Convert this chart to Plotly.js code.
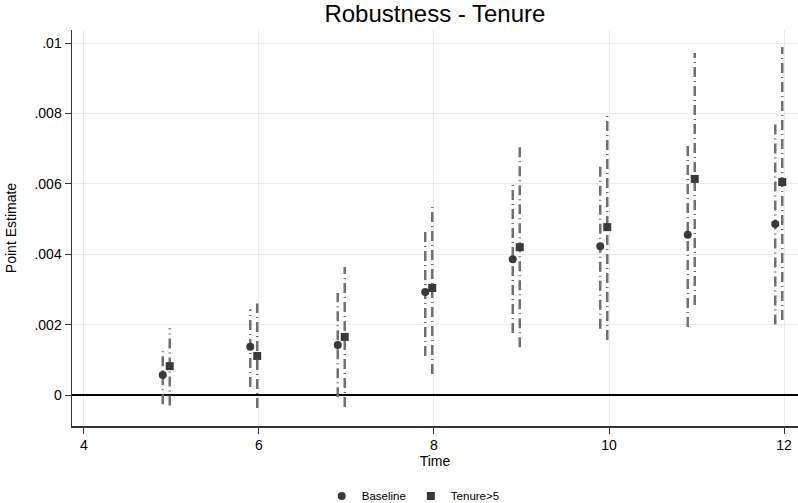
<!DOCTYPE html>
<html><head><meta charset="utf-8">
<script src="https://cdn.plot.ly/plotly-3.0.1.min.js"></script>
<style>body{margin:0;background:#fff}#c{width:798px;height:503px}</style>
</head><body><div id="c"></div>
<script>
const times = [5, 6, 7, 8, 9, 10, 11, 12];
const baseOffset = -0.1, tenOffset = -0.02;
const baseEst = [0.00057, 0.00137, 0.00142, 0.00293, 0.00386, 0.00423, 0.00455, 0.00486];
const baseLo  = [-0.00026, 0.00023, -0.00006, 0.00111, 0.00176, 0.00188, 0.00193, 0.00200];
const baseHi  = [0.00130, 0.00244, 0.00290, 0.00470, 0.00600, 0.00653, 0.00716, 0.00770];
const tenEst  = [0.00082, 0.00111, 0.00165, 0.00304, 0.00420, 0.00477, 0.00614, 0.00605];
const tenLo   = [-0.00030, -0.00037, -0.00034, 0.00060, 0.00136, 0.00156, 0.00256, 0.00213];
const tenHi   = [0.00190, 0.00260, 0.00364, 0.00545, 0.00707, 0.00795, 0.00972, 0.00989];
const yTicks = [0, 0.002, 0.004, 0.006, 0.008, 0.01];
const yTickText = ['0', '.002', '.004', '.006', '.008', '.01'];
const xTicks = [4, 6, 8, 10, 12];

function ciTrace(off, lo, hi) {
  const x = [], y = [];
  times.forEach((t, i) => { x.push(t + off, t + off, null); y.push(lo[i], hi[i], null); });
  return {x, y, mode: 'lines', type: 'scatter', showlegend: false, hoverinfo: 'skip',
          line: {color: '#707070', width: 2.5, dash: '10px,4px,1px,4px'}};
}
const traces = [
  ciTrace(baseOffset, baseLo, baseHi),
  ciTrace(tenOffset, tenLo, tenHi),
  {x: times.map(t => t + baseOffset), y: baseEst, mode: 'markers', type: 'scatter', name: 'Baseline',
   marker: {symbol: 'circle', size: 8, color: '#3a3a3a'}},
  {x: times.map(t => t + tenOffset), y: tenEst, mode: 'markers', type: 'scatter', name: 'Tenure>5',
   marker: {symbol: 'square', size: 8, color: '#3a3a3a'}}
];
const layout = {
  width: 798, height: 503,
  margin: {l: 72, r: 0, t: 30, b: 77, autoexpand: false},
  paper_bgcolor: '#fff', plot_bgcolor: '#fff',
  font: {family: 'Liberation Sans, Arial, sans-serif', color: '#000'},
  title: {text: 'Robustness - Tenure', font: {size: 24, color: '#000'}, x: 0.545, xanchor: 'center',
          yref: 'container', y: 0.972, yanchor: 'middle'},
  xaxis: {range: [3.863, 12.16], tickvals: xTicks, ticktext: xTicks.map(String),
          showgrid: true, gridcolor: '#ebebeb', gridwidth: 1, zeroline: false,
          showline: true, linecolor: '#333', linewidth: 1.5, ticks: 'outside', ticklen: 6, tickcolor: '#333',
          tickfont: {size: 14}, title: {text: 'Time', font: {size: 14}, standoff: 4}},
  yaxis: {range: [-0.00088, 0.01037], tickvals: yTicks, ticktext: yTickText,
          showgrid: true, gridcolor: '#ebebeb', gridwidth: 1, zeroline: true, zerolinecolor: '#000', zerolinewidth: 1.2,
          showline: true, linecolor: '#333', linewidth: 1.5, ticks: 'outside', ticklen: 6, tickcolor: '#333',
          tickfont: {size: 14}, title: {text: 'Point Estimate', font: {size: 14}, standoff: 14}},
  showlegend: true,
  legend: {orientation: 'h', x: 0.47, xanchor: 'center', yref: 'container', y: 0.014, yanchor: 'middle',
           font: {size: 11.5}, itemwidth: 30}
};
Plotly.newPlot('c', traces, layout, {displayModeBar: false, staticPlot: true});
</script></body></html>
